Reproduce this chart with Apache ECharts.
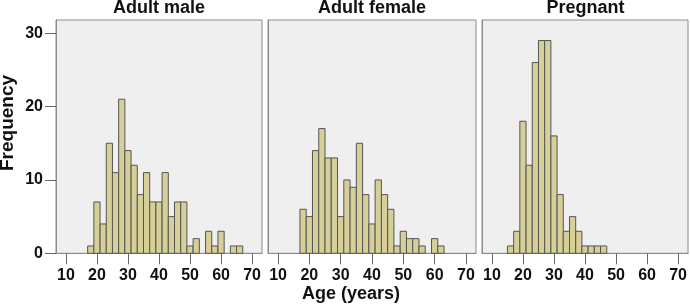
<!DOCTYPE html>
<html>
<head>
<meta charset="utf-8">
<script src="https://cdn.jsdelivr.net/npm/echarts@6/dist/echarts.min.js"></script>
<style>html,body{margin:0;padding:0;background:#fff;}#c{width:690px;height:308px;}</style>
</head>
<body>
<div id="c"></div>
<script>
const panelTitles = ['Adult male', 'Adult female', 'Pregnant'];
const xTickValues = [10, 20, 30, 40, 50, 60, 70];
const yTickValues = [0, 10, 20, 30];
const binWidth = 2;

const maleBins = [18,20,22,24,26,28,30,32,34,36,38,40,42,44,46,48,50,52,54,56,58,60,62,64,66];
const maleCounts = [1,7,4,15,11,21,14,12,8,11,7,7,11,5,7,7,1,2,0,3,1,3,0,1,1];

const femaleBins = [18,20,22,24,26,28,30,32,34,36,38,40,42,44,46,48,50,52,54,56,58,60,62];
const femaleCounts = [6,5,14,17,13,13,5,10,9,15,8,4,10,8,6,1,3,2,2,1,0,2,1];

const pregBins = [16,18,20,22,24,26,28,30,32,34,36,38,40,42,44,46];
const pregCounts = [1,3,18,12,26,29,29,16,8,3,5,3,1,1,1,1];

const panels = [
  {bins: maleBins, counts: maleCounts},
  {bins: femaleBins, counts: femaleCounts},
  {bins: pregBins, counts: pregCounts}
];

const FONT = '"Liberation Sans", Arial, sans-serif';
const gridsPos = [
  {left: 56, width: 206},
  {left: 268, width: 208},
  {left: 482, width: 207}
];
const TOP = 20, BOTTOM_Y = 253.3;

const grids = [], xAxes = [], yAxes = [], series = [], graphics = [];
gridsPos.forEach((g, i) => {
  grids.push({
    left: g.left, top: TOP, width: g.width, height: BOTTOM_Y - TOP,
    show: true, backgroundColor: '#efefef', borderColor: '#8c8c8c', borderWidth: 1
  });
  xAxes.push({
    type: 'value', gridIndex: i, min: 6.8, max: 73.2,
    splitLine: {show: false},
    axisLine: {show: true, lineStyle: {color: '#8c8c8c', width: 1}},
    axisTick: {show: true, length: 11, inside: false, customValues: xTickValues, lineStyle: {color: '#666', width: 1}},
    axisLabel: {customValues: xTickValues, margin: 14, color: '#111', fontSize: 16, fontWeight: 'bold', fontFamily: FONT}
  });
  yAxes.push({
    type: 'value', gridIndex: i, min: 0, max: 31.8,
    splitLine: {show: false},
    axisLine: {show: true, lineStyle: {color: '#8c8c8c', width: 1}},
    axisTick: {show: i === 0, length: 11, customValues: yTickValues, lineStyle: {color: '#666', width: 1}},
    axisLabel: {show: i === 0, customValues: yTickValues, margin: 13, color: '#111', fontSize: 16, fontWeight: 'bold', fontFamily: FONT}
  });
  const p = panels[i];
  series.push({
    type: 'custom', xAxisIndex: i, yAxisIndex: i,
    data: p.bins.map((b, k) => [b, p.counts[k]]),
    renderItem: function (params, api) {
      const x = api.value(0), y = api.value(1);
      if (!y) return null;
      const p0 = api.coord([x - binWidth / 2, y]);
      const p1 = api.coord([x + binWidth / 2, 0]);
      return {
        type: 'rect',
        shape: {x: p0[0], y: p0[1], width: p1[0] - p0[0], height: p1[1] - p0[1]},
        style: {fill: '#d6cf97', stroke: '#555', lineWidth: 1}
      };
    }
  });
  graphics.push({
    type: 'text', x: g.left + g.width / 2, y: 8,
    style: {text: panelTitles[i], fontSize: 18, fontWeight: 'bold', fontFamily: FONT, fill: '#111', align: 'center', verticalAlign: 'middle'}
  });
});

graphics.push({
  type: 'text', x: 351, y: 294,
  style: {text: 'Age (years)', fontSize: 18, fontWeight: 'bold', fontFamily: FONT, fill: '#111', align: 'center', verticalAlign: 'middle'}
});
graphics.push({
  type: 'text', x: 8, y: 123, rotation: Math.PI / 2,
  style: {text: 'Frequency', fontSize: 19, fontWeight: 'bold', fontFamily: FONT, fill: '#111', align: 'center', verticalAlign: 'middle'}
});

const chart = echarts.init(document.getElementById('c'), null, {renderer: 'canvas'});
chart.setOption({
  animation: false,
  grid: grids, xAxis: xAxes, yAxis: yAxes, series: series, graphic: graphics
});
</script>
</body>
</html>
